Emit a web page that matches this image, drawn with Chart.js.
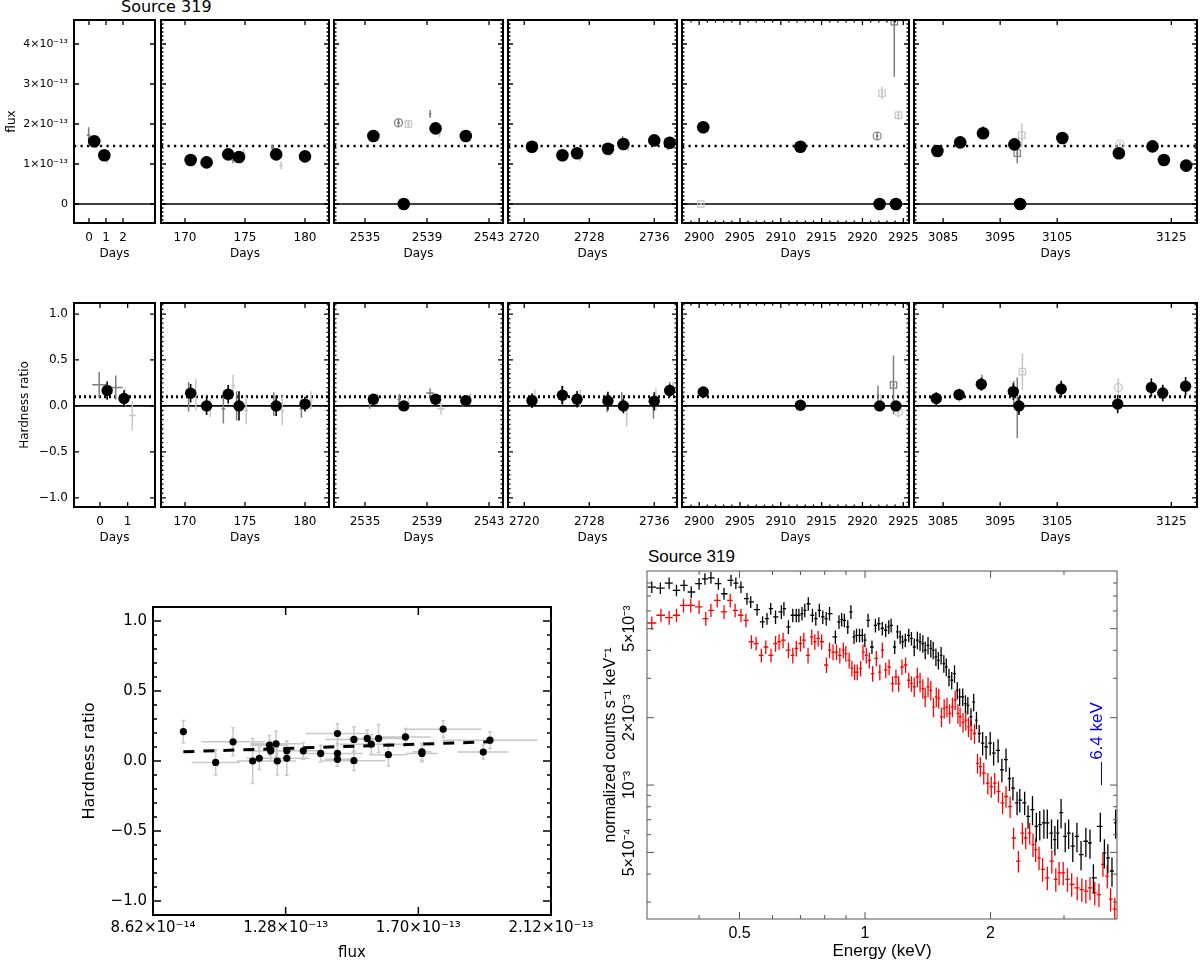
<!DOCTYPE html>
<html><head><meta charset="utf-8"><title>Source 319</title>
<script src="https://cdn.jsdelivr.net/npm/chart.js@4.4.1/dist/chart.umd.min.js"></script>
<style>
html,body{margin:0;padding:0;background:#fff;}
body{position:relative;width:1200px;height:962px;overflow:hidden;}
.box{position:absolute;}
.txt{position:absolute;white-space:nowrap;color:#000;}
</style></head><body>
<div class="txt" style="left:121px;top:-2px;font:16px 'DejaVu Sans';line-height:18px;">Source 319</div>
<div class="txt" style="left:648px;top:547px;font:17px 'Liberation Sans';line-height:19px;">Source 319</div>
<script>
// ---------------- DATA ----------------
// Light-curve flux (units of 1e-13): [day, flux, err]
const fluxBlack1=[[0.31,1.57,0.07],[0.90,1.22,0.06]];
const fluxBlack2=[[170.47,1.10,0.06],[171.8,1.04,0.06],[173.6,1.24,0.06],[174.5,1.175,0.06],[177.6,1.24,0.06],[180.0,1.19,0.05]];
const fluxBlack3=[[2535.54,1.70,0.05],[2537.5,0.0,0],[2539.55,1.89,0.06],[2541.5,1.70,0.05]];
const fluxBlack4=[[2720.95,1.43,0.06],[2724.7,1.22,0.05],[2726.5,1.27,0.05],[2730.3,1.38,0.06],[2732.2,1.50,0.06],[2736.0,1.59,0.05],[2737.9,1.53,0.06]];
const fluxBlack5=[[2900.5,1.92,0.06],[2912.4,1.43,0.05],[2922.1,0,0],[2924.1,0,0]];
const fluxBlack6=[[3084.0,1.325,0.06],[3088.0,1.54,0.06],[3092.0,1.77,0.08],[3097.5,1.49,0.06],[3098.5,0,0],[3105.9,1.65,0.06],[3115.8,1.27,0.05],[3121.7,1.44,0.05],[3123.7,1.10,0.06],[3127.6,0.96,0.05]];
// secondary detectors: [day, flux, xerr, yerr, marker]
const fluxDark1=[[-0.02,1.72,0.1,0.2,'+'],[0.95,1.20,0.1,0.08,'+']];
const fluxLight1=[[1.07,1.10,0.1,0.08,'+'],[0.45,1.50,0.1,0.1,'+']];
const fluxDark2=[[170.3,1.03,0.15,0.08,'+'],[174.0,1.10,0.15,0.08,'+'],[177.3,1.40,0.15,0.07,'+']];
const fluxLight2=[[170.8,1.12,0.15,0.08,'+'],[174.9,1.28,0.15,0.1,'+'],[178.0,0.97,0.15,0.1,'+']];
const fluxDark3=[[2537.16,2.03,0.1,0.08,'o'],[2539.2,2.25,0.08,0.1,'+'],[2535.4,1.72,0.1,0.06,'+'],[2541.3,1.72,0.1,0.06,'+']];
const fluxLight3=[[2537.8,2.0,0.1,0.1,'s'],[2539.8,1.75,0.1,0.08,'+']];
const fluxDark4=[[2732.1,1.58,0.15,0.12,'+'],[2737.7,1.45,0.15,0.1,'+'],[2720.9,1.35,0.15,0.08,'+']];
const fluxLight4=[[2721.2,1.40,0.15,0.08,'+'],[2726.9,1.17,0.15,0.1,'+'],[2730.5,1.30,0.15,0.1,'+'],[2732.8,1.42,0.15,0.1,'+']];
const fluxDark5=[[2921.8,1.70,0.15,0.1,'o'],[2923.9,4.56,0.15,1.38,'s']];
const fluxLight5=[[2900.2,0.0,0.15,0,'s'],[2922.4,2.77,0.15,0.16,'s'],[2924.4,2.22,0.15,0.12,'s']];
const fluxDark6=[[3098.0,1.27,0.2,0.25,'s'],[3092.0,1.85,0.2,0.1,'+'],[3097.4,1.55,0.2,0.1,'+']];
const fluxLight6=[[3098.8,1.72,0.2,0.3,'s'],[3116.0,1.50,0.2,0.06,'o'],[3121.5,1.48,0.2,0.08,'+']];
// Hardness ratio: [day, HR, err]
const hrBlack1=[[0.26,0.167,0.1],[0.87,0.08,0.09]];
const hrBlack2=[[170.47,0.138,0.1],[171.8,0.0,0.1],[173.6,0.127,0.1],[174.5,0.0,0.16],[177.6,0.0,0.11],[180.0,0.02,0.08]];
const hrBlack3=[[2535.54,0.072,0.04],[2537.5,0.0,0.03],[2539.55,0.072,0.04],[2541.5,0.058,0.04]];
const hrBlack4=[[2720.95,0.058,0.08],[2724.7,0.116,0.1],[2726.5,0.072,0.09],[2730.3,0.054,0.1],[2732.2,0.0,0.08],[2736.0,0.05,0.1],[2737.9,0.167,0.07]];
const hrBlack5=[[2900.5,0.152,0.04],[2912.4,0.007,0.03],[2922.1,0.0,0.03],[2924.1,0.0,0.03]];
const hrBlack6=[[3083.8,0.08,0.07],[3087.8,0.123,0.06],[3091.7,0.236,0.07],[3097.3,0.156,0.09],[3098.3,0.0,0.1],[3105.7,0.185,0.09],[3115.6,0.02,0.1],[3121.5,0.2,0.1],[3123.5,0.14,0.09],[3127.5,0.214,0.1]];
const hrDark1=[[-0.03,0.23,0.25,0.14,'+'],[0.57,0.2,0.25,0.13,'+']];
const hrLight1=[[1.17,-0.105,0.12,0.16,'+'],[0.9,0.1,0.1,0.1,'+']];
const hrDark2=[[170.3,0.1,0.15,0.16,'+'],[173.2,-0.03,0.15,0.16,'+'],[174.3,0.0,0.15,0.16,'+'],[177.4,0.02,0.15,0.13,'+'],[179.7,-0.03,0.15,0.1,'+']];
const hrLight2=[[170.9,0.12,0.15,0.17,'+'],[172.1,-0.02,0.15,0.1,'+'],[174.0,0.22,0.15,0.12,'+'],[175.1,-0.05,0.15,0.15,'+'],[178.1,-0.05,0.15,0.16,'+'],[180.5,0.06,0.15,0.1,'+']];
const hrDark3=[[2535.3,0.04,0.12,0.07,'+'],[2537.2,0.07,0.12,0.06,'+'],[2539.2,0.14,0.25,0.05,'+'],[2541.3,0.04,0.12,0.05,'+']];
const hrLight3=[[2535.8,0.08,0.12,0.06,'+'],[2537.8,0.03,0.12,0.07,'+'],[2539.9,-0.03,0.25,0.07,'+'],[2541.8,0.08,0.12,0.06,'+']];
const hrDark4=[[2724.6,0.12,0.15,0.1,'+'],[2730.2,0.03,0.15,0.1,'+'],[2732.0,0.05,0.15,0.1,'+'],[2735.9,-0.02,0.15,0.12,'+'],[2737.9,0.18,0.15,0.08,'+']];
const hrLight4=[[2721.3,0.1,0.15,0.08,'+'],[2726.9,0.08,0.15,0.1,'+'],[2732.6,-0.09,0.15,0.13,'+'],[2736.2,0.07,0.15,0.12,'+'],[2738.3,0.2,0.15,0.06,'+']];
const hrDark5=[[2923.8,0.228,0.15,0.32,'s'],[2921.9,0.12,0.15,0.1,'+']];
const hrLight5=[[2924.4,-0.065,0.15,0.06,'o'],[2922.3,0.08,0.15,0.05,'+']];
const hrDark6=[[3098.0,-0.02,0.2,0.33,'+'],[3097.4,0.14,0.2,0.13,'+'],[3091.8,0.26,0.2,0.08,'+']];
const hrLight6=[[3098.9,0.373,0.2,0.2,'s'],[3115.7,0.2,0.2,0.1,'o'],[3087.9,0.12,0.2,0.08,'+']];
const fluxMean=1.45, hrMean=0.1;
// axis ticks
const fluxYTicks=[0,1,2,3,4], fluxYLabels=['0','1×10⁻¹³','2×10⁻¹³','3×10⁻¹³','4×10⁻¹³'];
const hrYTicks=[-1,-0.5,0,0.5,1], hrYLabels=['−1.0','−0.5','0.0','0.5','1.0'];
const fluxXRanges=[[-0.88,3.88],[168,182],[2533,2543.9],[2718,2738.8],[2897.9,2925.7],[3079.9,3129.5]];
const hrXRanges=[[-0.94,1.99],[168,182],[2533,2543.9],[2718,2738.8],[2897.9,2925.7],[3079.9,3129.5]];
const fluxXTicks=[[0,1,2],[170,175,180],[2535,2539,2543],[2720,2728,2736],[2900,2905,2910,2915,2920,2925],[3085,3095,3105,3125]];
const hrXTicks=[[0,1],[170,175,180],[2535,2539,2543],[2720,2728,2736],[2900,2905,2910,2915,2920,2925],[3085,3095,3105,3125]];
// Hardness vs flux (flux in 1e-13)
const scatFlux=[0.958,1.060,1.115,1.177,1.198,1.230,1.234,1.251,1.255,1.285,1.285,1.337,1.392,1.445,1.445,1.445,1.497,1.497,1.539,1.552,1.575,1.606,1.660,1.712,1.712,1.779,1.906,1.927];
const scatHR=[0.21,-0.01,0.137,0.0,0.019,0.113,0.071,0.123,0.0,0.073,0.019,0.073,0.054,0.196,0.054,0.012,0.154,0.002,0.161,0.12,0.161,0.045,0.172,0.066,0.054,0.227,0.064,0.149];
const scatFluxErr=[0.01,0.076,0.10,0.05,0.04,0.06,0.07,0.08,0.06,0.07,0.07,0.05,0.06,0.1,0.08,0.04,0.09,0.1,0.06,0.1,0.08,0.06,0.08,0.03,0.05,0.12,0.08,0.15];
const scatHRErr=[0.08,0.09,0.1,0.16,0.08,0.07,0.07,0.09,0.1,0.07,0.12,0.06,0.06,0.07,0.06,0.05,0.09,0.07,0.06,0.07,0.1,0.08,0.06,0.06,0.06,0.06,0.05,0.06];
const fitFlux=[0.958,1.927], fitHR=[0.066,0.137];
const scatXTicks=[0.862,1.2813,1.7007,2.12], scatXLabels=['8.62×10⁻¹⁴','1.28×10⁻¹³','1.70×10⁻¹³','2.12×10⁻¹³'];
// Spectrum: [energy keV, normalized counts (1e-3 s^-1 keV^-1)]
const specBlack=[[0.308,7.67],[0.323,7.59],[0.339,7.99],[0.353,7.42],[0.368,7.81],[0.383,7.29],[0.400,7.94],[0.413,8.35],[0.427,8.44],[0.445,7.94],
[0.459,7.16],[0.477,8.22],[0.490,7.99],[0.504,7.67],[0.521,6.81],[0.532,6.58],[0.551,6.08],[0.568,5.36],[0.582,5.54],[0.594,6.14],
[0.610,5.64],[0.630,5.94],[0.639,6.14],[0.655,5.09],[0.671,5.74],[0.684,5.74],[0.694,5.74],[0.706,5.84],[0.717,6.04],[0.731,6.46],
[0.748,5.74],[0.762,5.54],[0.777,6.04],[0.792,5.64],[0.807,5.54],[0.822,5.84],[0.849,4.59],[0.866,5.36],[0.879,5.49],[0.892,5.45],
[0.909,5.09],[0.925,5.94],[0.941,4.59],[0.954,4.67],[0.970,4.67],[0.985,4.67],[0.999,4.44],[1.017,5.45],[1.039,4.14],[1.059,5.17],
[1.079,5.26],[1.100,5.01],[1.121,4.92],[1.140,5.09],[1.155,5.17],[1.178,4.14],[1.196,4.84],[1.214,4.59],[1.230,4.37],[1.249,4.44],
[1.273,4.67],[1.292,4.52],[1.312,4.14],[1.335,4.44],[1.355,4.37],[1.376,4.29],[1.394,4.01],[1.416,4.21],[1.438,4.08],[1.457,4.01],
[1.479,3.74],[1.499,3.61],[1.522,3.80],[1.545,3.49],[1.566,3.37],[1.590,3.04],[1.614,2.94],[1.639,3.15],[1.664,2.65],[1.686,2.48],
[1.715,2.48],[1.741,2.31],[1.764,2.27],[1.795,2.02],[1.822,2.35],[1.850,1.95],[1.878,1.70],[1.914,1.54],[1.951,1.48],[1.996,1.54],
[2.034,1.39],[2.085,1.43],[2.129,1.17],[2.178,1.30],[2.220,1.07],[2.263,0.969],[2.315,0.833],[2.350,0.857],[2.414,0.833],[2.460,0.724],
[2.521,0.777],[2.575,0.654],[2.624,0.665],[2.685,0.677],[2.736,0.677],[2.800,0.610],[2.853,0.570],[2.897,0.610],[2.952,0.753],[3.020,0.590],
[3.078,0.610],[3.149,0.533],[3.222,0.590],[3.296,0.489],[3.385,0.561],[3.463,0.551],[3.529,0.385],[3.666,0.654],[3.750,0.498],[3.822,0.473],
[3.910,0.413],[3.990,0.677]];
const specRed=[[0.308,5.30],[0.324,5.74],[0.339,5.60],[0.353,5.74],[0.367,6.35],[0.382,6.35],[0.400,6.25],[0.415,5.54],[0.427,6.04],[0.442,6.69],
[0.459,5.94],[0.475,6.69],[0.488,6.04],[0.504,5.74],[0.518,5.45],[0.534,4.37],[0.548,4.29],[0.564,3.80],[0.578,4.14],[0.595,3.80],
[0.610,4.29],[0.622,4.37],[0.636,4.44],[0.655,4.01],[0.671,3.80],[0.684,4.08],[0.700,4.29],[0.713,4.44],[0.730,3.80],[0.745,4.59],
[0.758,4.37],[0.772,4.52],[0.787,4.37],[0.808,3.44],[0.822,4.01],[0.838,3.93],[0.854,3.93],[0.870,3.80],[0.887,4.01],[0.899,3.87],
[0.916,3.61],[0.930,3.32],[0.944,3.20],[0.958,3.20],[0.976,3.32],[0.989,3.93],[1.007,3.80],[1.024,3.61],[1.043,3.15],[1.064,3.68],
[1.085,3.20],[1.100,4.01],[1.121,3.26],[1.142,3.37],[1.164,2.84],[1.186,3.04],[1.204,2.84],[1.226,3.37],[1.251,3.44],[1.273,2.94],
[1.292,2.84],[1.312,2.75],[1.335,3.04],[1.355,2.89],[1.376,2.70],[1.394,2.48],[1.416,2.75],[1.438,2.65],[1.459,2.23],[1.482,2.48],
[1.502,2.44],[1.525,2.02],[1.548,2.20],[1.572,2.23],[1.596,2.09],[1.620,2.23],[1.645,2.40],[1.670,2.09],[1.690,2.02],[1.718,1.91],
[1.744,1.95],[1.770,1.82],[1.796,1.76],[1.830,1.70],[1.861,1.25],[1.890,1.21],[1.926,1.13],[1.970,1.02],[2.008,0.985],[2.046,1.02],
[2.089,0.937],[2.137,0.833],[2.178,0.889],[2.228,0.801],[2.271,0.580],[2.332,0.457],[2.384,0.610],[2.428,0.580],[2.482,0.610],[2.528,0.542],
[2.565,0.515],[2.614,0.473],[2.665,0.420],[2.736,0.385],[2.805,0.457],[2.867,0.379],[2.920,0.405],[2.987,0.405],[3.058,0.379],[3.130,0.360],
[3.227,0.347],[3.310,0.341],[3.385,0.336],[3.463,0.347],[3.555,0.330],[3.638,0.324],[3.720,0.442],[3.810,0.392],[3.880,0.309],[3.970,0.279]];
const specErrEdges=[0.6,1.3,1.9,2.5,5.0];
const specErrBlack=[0.06,0.07,0.09,0.12,0.15];
const specErrRed=[0.07,0.08,0.10,0.11,0.12];
const specXMajor=[0.5,1,2], specXLabels=['0.5','1','2'], specXMinor=[0.3,0.4,0.6,0.7,0.8,0.9,3,4];
const specYMajor=[0.5,1,2,5], specYLabels=['5×10⁻⁴','10⁻³','2×10⁻³','5×10⁻³'], specYMinor=[0.3,0.4,0.6,0.7,0.8,0.9,3,4,6,7,8,9];
const lineE=3.69, lineCounts=[1.0,1.27], lineLabel='6.4 keV';

// ---------------- HELPERS ----------------
Chart.defaults.font.family="'DejaVu Sans', sans-serif";
Chart.defaults.color='#000';

function mkCanvas(left,top,W,H){
  const d=document.createElement('div'); d.className='box';
  d.style.left=left+'px'; d.style.top=top+'px'; d.style.width=W+'px'; d.style.height=H+'px';
  const c=document.createElement('canvas'); c.width=W; c.height=H; c.style.width=W+'px'; c.style.height=H+'px';
  d.appendChild(c); document.body.appendChild(d); return c;
}
function steps(min,max,step){const o=[]; if(!step) return o; const n0=Math.ceil(min/step-1e-9), n1=Math.floor(max/step+1e-9); for(let n=n0;n<=n1;n++) o.push(+(n*step).toFixed(6)); return o;}
function symErr(list,xi,yi){return{
  xlo:list.map(r=>xi==null?r[0]:r[0]-r[xi]), xhi:list.map(r=>xi==null?r[0]:r[0]+r[xi]),
  ylo:list.map(r=>r[1]-r[yi]), yhi:list.map(r=>r[1]+r[yi])};}

const errPlugin={id:'errs',beforeDatasetsDraw(chart){
  const {ctx,chartArea:a}=chart; const x=chart.scales.x,y=chart.scales.y;
  ctx.save(); ctx.beginPath(); ctx.rect(a.left,a.top,a.right-a.left,a.bottom-a.top); ctx.clip();
  const dss=chart.data.datasets;
  for(let k=dss.length-1;k>=0;k--){const ds=dss[k]; if(!ds.errs) continue; const e=ds.errs;
    ctx.strokeStyle=ds.errColor; ctx.lineWidth=ds.errWidth||1; ctx.beginPath();
    ds.data.forEach((p,i)=>{const px=x.getPixelForValue(p.x), py=y.getPixelForValue(p.y);
      if(e.ylo[i]!==e.yhi[i]){const y1=y.getPixelForValue(e.ylo[i]), y2=y.getPixelForValue(e.yhi[i]);
        ctx.moveTo(px,y1); ctx.lineTo(px,y2);
        if(ds.cap){ctx.moveTo(px-ds.cap,y1);ctx.lineTo(px+ds.cap,y1);ctx.moveTo(px-ds.cap,y2);ctx.lineTo(px+ds.cap,y2);} }
      if(e.xlo[i]!==e.xhi[i]){ctx.moveTo(x.getPixelForValue(e.xlo[i]),py); ctx.lineTo(x.getPixelForValue(e.xhi[i]),py);}
    });
    ctx.stroke();}
  ctx.restore();}};

function hlinePlugin(lines){return{id:'hl',beforeDatasetsDraw(chart){
  const {ctx,chartArea:a}=chart; const y=chart.scales.y; ctx.save();
  lines.forEach(l=>{const py=y.getPixelForValue(l.v); ctx.beginPath(); ctx.setLineDash(l.dash||[]); ctx.lineWidth=l.w; ctx.strokeStyle=l.c||'#000'; ctx.moveTo(a.left,py); ctx.lineTo(a.right,py); ctx.stroke();});
  ctx.restore();}};}

function framePlugin(f){return{id:'frame',afterDraw(chart){
  const {ctx,chartArea:a}=chart; const x=chart.scales.x,y=chart.scales.y;
  ctx.save(); ctx.strokeStyle=f.color; ctx.lineWidth=f.tickWidth; ctx.beginPath();
  const seg=(x1,y1,x2,y2)=>{ctx.moveTo(x1,y1);ctx.lineTo(x2,y2);};
  const xs=(vals,len)=>vals.forEach(v=>{const p=x.getPixelForValue(v); if(p<a.left+1.5||p>a.right-1.5) return; seg(p,a.bottom,p,a.bottom-len); seg(p,a.top,p,a.top+len);});
  const ys=(vals,len)=>vals.forEach(v=>{const p=y.getPixelForValue(v); if(p<a.top+1.5||p>a.bottom-1.5) return; seg(a.left,p,a.left+len,p); seg(a.right,p,a.right-len,p);});
  xs(f.xMajor,f.major); xs(f.xMinor||[],f.minor); ys(f.yMajor,f.major); ys(f.yMinor||[],f.minor);
  ctx.stroke();
  ctx.lineWidth=f.width; ctx.strokeRect(a.left,a.top,a.right-a.left,a.bottom-a.top);
  ctx.restore();}};}

function grayDataset(list,col){return{
  data:list.map(r=>({x:r[0],y:r[1]})),
  pointRadius:list.map(r=>r[4]==='+'?0:(r[4]==='s'?4.5:4)),
  pointStyle:list.map(r=>r[4]==='s'?'rect':'circle'),
  pointBackgroundColor:'rgba(0,0,0,0)', pointBorderColor:col, pointBorderWidth:1.2,
  errs:symErr(list,2,3), errColor:col, errWidth:1.5};}

function timePanel(p){
  const ml=p.showY?p.x0:24, mr=24, mt=16, mb=40;
  const W=p.x1-p.x0+ml+mr, H=p.y1-p.y0+mt+mb;
  const cv=mkCanvas(p.x0-ml,p.y0-mt,W,H);
  const datasets=[{data:p.black.map(r=>({x:r[0],y:r[1]})), pointRadius:p.r, pointBackgroundColor:'#000', pointBorderColor:'#000', pointBorderWidth:0,
    errs:symErr(p.black,null,2), errColor:'#000', errWidth:1.6}];
  datasets.push(grayDataset(p.dark,'#7d7d7d'));
  datasets.push(grayDataset(p.light,'#c6c6c6'));
  return new Chart(cv,{type:'scatter',data:{datasets},
    options:{responsive:false,animation:false,events:[],
      layout:{autoPadding:false,padding:{left:0,right:mr,top:mt,bottom:0}},
      plugins:{legend:{display:false},tooltip:{enabled:false}},
      scales:{
        x:{type:'linear',min:p.xr[0],max:p.xr[1],grid:{display:false,drawTicks:false},border:{display:false},
          afterBuildTicks:s=>{s.ticks=p.xt.map(v=>({value:v}));},
          ticks:{autoSkip:false,maxRotation:0,minRotation:0,padding:8,font:{size:12},color:'#000',callback:(v,i)=>String(p.xt[i])},
          title:{display:true,text:'Days',font:{size:12},color:'#000',padding:{top:0,bottom:2}},
          afterFit:s=>{s.height=mb;}},
        y:{type:'linear',min:p.yr[0],max:p.yr[1],grid:{display:false,drawTicks:false},border:{display:false},
          afterBuildTicks:s=>{s.ticks=p.yt.map(v=>({value:v}));},
          ticks:{display:!!p.showY,autoSkip:false,padding:6,font:{size:p.ytSize},color:'#000',callback:(v,i)=>p.yl[i]},
          title:{display:!!p.showY,text:p.ytitle||'',font:{size:12},color:'#000',padding:{top:p.ytPad||0,bottom:0}},
          afterFit:s=>{s.width=ml;}}}},
    plugins:[hlinePlugin(p.hl),errPlugin,framePlugin({xMajor:p.xt,xMinor:p.xMinor,yMajor:p.yt,yMinor:p.yMinor,major:5,minor:2.5,width:2,tickWidth:1.3,color:'#000'})]});
}

// ---------------- TOP: light curves ----------------
const colX=[[74,155],[161,329],[334,503],[508,677],[682,909],[914,1197]];
const fluxB=[fluxBlack1,fluxBlack2,fluxBlack3,fluxBlack4,fluxBlack5,fluxBlack6];
const fluxD=[fluxDark1,fluxDark2,fluxDark3,fluxDark4,fluxDark5,fluxDark6];
const fluxL=[fluxLight1,fluxLight2,fluxLight3,fluxLight4,fluxLight5,fluxLight6];
const hrB=[hrBlack1,hrBlack2,hrBlack3,hrBlack4,hrBlack5,hrBlack6];
const hrD=[hrDark1,hrDark2,hrDark3,hrDark4,hrDark5,hrDark6];
const hrL=[hrLight1,hrLight2,hrLight3,hrLight4,hrLight5,hrLight6];
const xMinorStep=[0,0,0,0,1,0];
for(let i=0;i<6;i++){
  timePanel({x0:colX[i][0],x1:colX[i][1],y0:20,y1:223,showY:i===0,ytitle:'flux',ytPad:5,ytSize:11,
    xr:fluxXRanges[i],xt:fluxXTicks[i],xMinor:steps(fluxXRanges[i][0],fluxXRanges[i][1],xMinorStep[i]),
    yr:[-0.475,4.6],yt:fluxYTicks,yl:fluxYLabels,yMinor:i===0?[]:steps(-0.475,4.6,0.1),
    black:fluxB[i],dark:fluxD[i],light:fluxL[i],r:6.3,
    hl:[{v:0,w:1.6},{v:fluxMean,w:2.6,dash:[2.2,4.3]}]});
  timePanel({x0:colX[i][0],x1:colX[i][1],y0:303,y1:507,showY:i===0,ytitle:'Hardness ratio',ytPad:18,ytSize:12,
    xr:hrXRanges[i],xt:hrXTicks[i],xMinor:steps(hrXRanges[i][0],hrXRanges[i][1],xMinorStep[i]),
    yr:[-1.1,1.12],yt:hrYTicks,yl:hrYLabels,yMinor:i===0?[]:steps(-1.1,1.12,0.05),
    black:hrB[i],dark:hrD[i],light:hrL[i],r:5.7,
    hl:[{v:0,w:1.6},{v:hrMean,w:3,dash:[2,3]}]});
}

// ---------------- BOTTOM LEFT: HR vs flux ----------------
(function(){
  const x0=153,x1=551,y0=607,y1=915, ml=93, mr=50, mt=25, mb=47;
  const cv=mkCanvas(x0-ml,y0-mt,x1-x0+ml+mr,y1-y0+mt+mb);
  const pts=scatFlux.map((f,i)=>({x:f,y:scatHR[i]}));
  new Chart(cv,{type:'scatter',data:{datasets:[
    {data:pts,pointRadius:3.6,pointBackgroundColor:'#000',pointBorderWidth:0,
     errs:{xlo:scatFlux.map((f,i)=>f-scatFluxErr[i]),xhi:scatFlux.map((f,i)=>f+scatFluxErr[i]),ylo:scatHR.map((h,i)=>h-scatHRErr[i]),yhi:scatHR.map((h,i)=>h+scatHRErr[i])},
     errColor:'#c8c8c8',errWidth:1.5,cap:1.8},
    {type:'line',data:fitFlux.map((f,i)=>({x:f,y:fitHR[i]})),borderColor:'#000',borderWidth:3,borderDash:[11,9],pointRadius:0,fill:false}
  ]},options:{responsive:false,animation:false,events:[],
    layout:{autoPadding:false,padding:{left:0,right:mr,top:mt,bottom:0}},
    plugins:{legend:{display:false},tooltip:{enabled:false}},
    scales:{
      x:{type:'linear',min:0.862,max:2.12,grid:{display:false,drawTicks:false},border:{display:false},
        afterBuildTicks:s=>{s.ticks=scatXTicks.map(v=>({value:v}));},
        ticks:{autoSkip:false,maxRotation:0,padding:4,font:{size:15},color:'#000',callback:(v,i)=>scatXLabels[i]},
        title:{display:true,text:'flux',font:{size:15},color:'#000',padding:{top:0,bottom:0}},
        afterFit:s=>{s.height=mb;}},
      y:{type:'linear',min:-1.1,max:1.1,grid:{display:false,drawTicks:false},border:{display:false},
        afterBuildTicks:s=>{s.ticks=hrYTicks.map(v=>({value:v}));},
        ticks:{autoSkip:false,padding:6,font:{size:15},color:'#000',callback:(v,i)=>hrYLabels[i]},
        title:{display:true,text:'Hardness ratio',font:{size:16},color:'#000',padding:{top:20,bottom:0}},
        afterFit:s=>{s.width=ml;}}}},
    plugins:[errPlugin,framePlugin({xMajor:scatXTicks,xMinor:[],yMajor:hrYTicks,yMinor:steps(-1.1,1.1,0.1),major:8,minor:4,width:2,tickWidth:1.5,color:'#000'})]});
})();

// ---------------- BOTTOM RIGHT: spectrum ----------------
(function(){
  const x0=647,x1=1117,y0=571,y1=919, ml=57, mr=20, mt=30, mb=43;
  const cv=mkCanvas(x0-ml,y0-mt,x1-x0+ml+mr,y1-y0+mt+mb);
  const SP="'Liberation Sans', Arial, sans-serif";
  function specSet(list,edges,rel,col){
    const E=list.map(r=>r[0]);
    const hi=E.map((e,i)=>i<E.length-1?Math.sqrt(e*E[i+1]):e*e/Math.sqrt(e*E[i-1]));
    const lo=E.map((e,i)=>i>0?Math.sqrt(e*E[i-1]):e*e/Math.sqrt(e*E[i+1]));
    const r=E.map(e=>{let k=0; while(k<edges.length-1&&e>edges[k]) k++; return rel[k];});
    return {data:list.map(p=>({x:p[0],y:p[1]})),pointRadius:0,showLine:false,
      errs:{xlo:lo,xhi:hi,ylo:list.map((p,i)=>p[1]*(1-r[i])),yhi:list.map((p,i)=>p[1]*(1+r[i]))},errColor:col,errWidth:1.3};
  }
  const extra={id:'extra',afterDraw(chart){
    const {ctx,chartArea:a}=chart; const x=chart.scales.x,y=chart.scales.y;
    ctx.save(); ctx.fillStyle='#000'; ctx.font="16px "+SP; ctx.textAlign='center'; ctx.textBaseline='middle';
    specYMajor.forEach((v,i)=>{const py=y.getPixelForValue(v); ctx.save(); ctx.translate(a.left-17,py); ctx.rotate(-Math.PI/2); ctx.fillText(specYLabels[i],0,0); ctx.restore();});
    const lx=x.getPixelForValue(lineE), ly0=y.getPixelForValue(lineCounts[0]), ly1=y.getPixelForValue(lineCounts[1]);
    ctx.strokeStyle='#0000ff'; ctx.lineWidth=1; ctx.beginPath(); ctx.moveTo(lx,ly0); ctx.lineTo(lx,ly1); ctx.stroke();
    ctx.fillStyle='#0000ff'; ctx.font="17px "+SP; ctx.translate(lx+1,ly1-2); ctx.rotate(-Math.PI/2); ctx.textAlign='left'; ctx.textBaseline='alphabetic'; ctx.fillText(lineLabel,0,0);
    ctx.restore();}};
  new Chart(cv,{type:'scatter',data:{datasets:[
    specSet(specBlack,specErrEdges,specErrBlack,'#000000'),
    specSet(specRed,specErrEdges,specErrRed,'#ff0000')
  ]},options:{responsive:false,animation:false,events:[],
    layout:{autoPadding:false,padding:{left:0,right:mr,top:mt,bottom:0}},
    plugins:{legend:{display:false},tooltip:{enabled:false}},
    scales:{
      x:{type:'logarithmic',min:0.3,max:4.02,grid:{display:false,drawTicks:false},border:{display:false},
        afterBuildTicks:s=>{s.ticks=specXMajor.map(v=>({value:v}));},
        ticks:{autoSkip:false,maxRotation:0,padding:5,font:{size:16,family:SP},color:'#000',callback:(v,i)=>specXLabels[i]},
        title:{display:true,text:'Energy (keV)',font:{size:17,family:SP},color:'#000',padding:{top:0,bottom:0}},
        afterFit:s=>{s.height=mb;}},
      y:{type:'logarithmic',min:0.252,max:9.05,grid:{display:false,drawTicks:false},border:{display:false},
        afterBuildTicks:s=>{s.ticks=specYMajor.map(v=>({value:v}));},
        ticks:{display:false},
        title:{display:true,text:'normalized counts s⁻¹ keV⁻¹',font:{size:16,family:SP},color:'#000',padding:{top:11,bottom:0}},
        afterFit:s=>{s.width=ml;}}}},
    plugins:[errPlugin,extra,framePlugin({xMajor:specXMajor,xMinor:specXMinor,yMajor:specYMajor,yMinor:specYMinor,major:7,minor:4,width:1,tickWidth:1,color:'#555'})]});
})();
</script>
</body></html>
